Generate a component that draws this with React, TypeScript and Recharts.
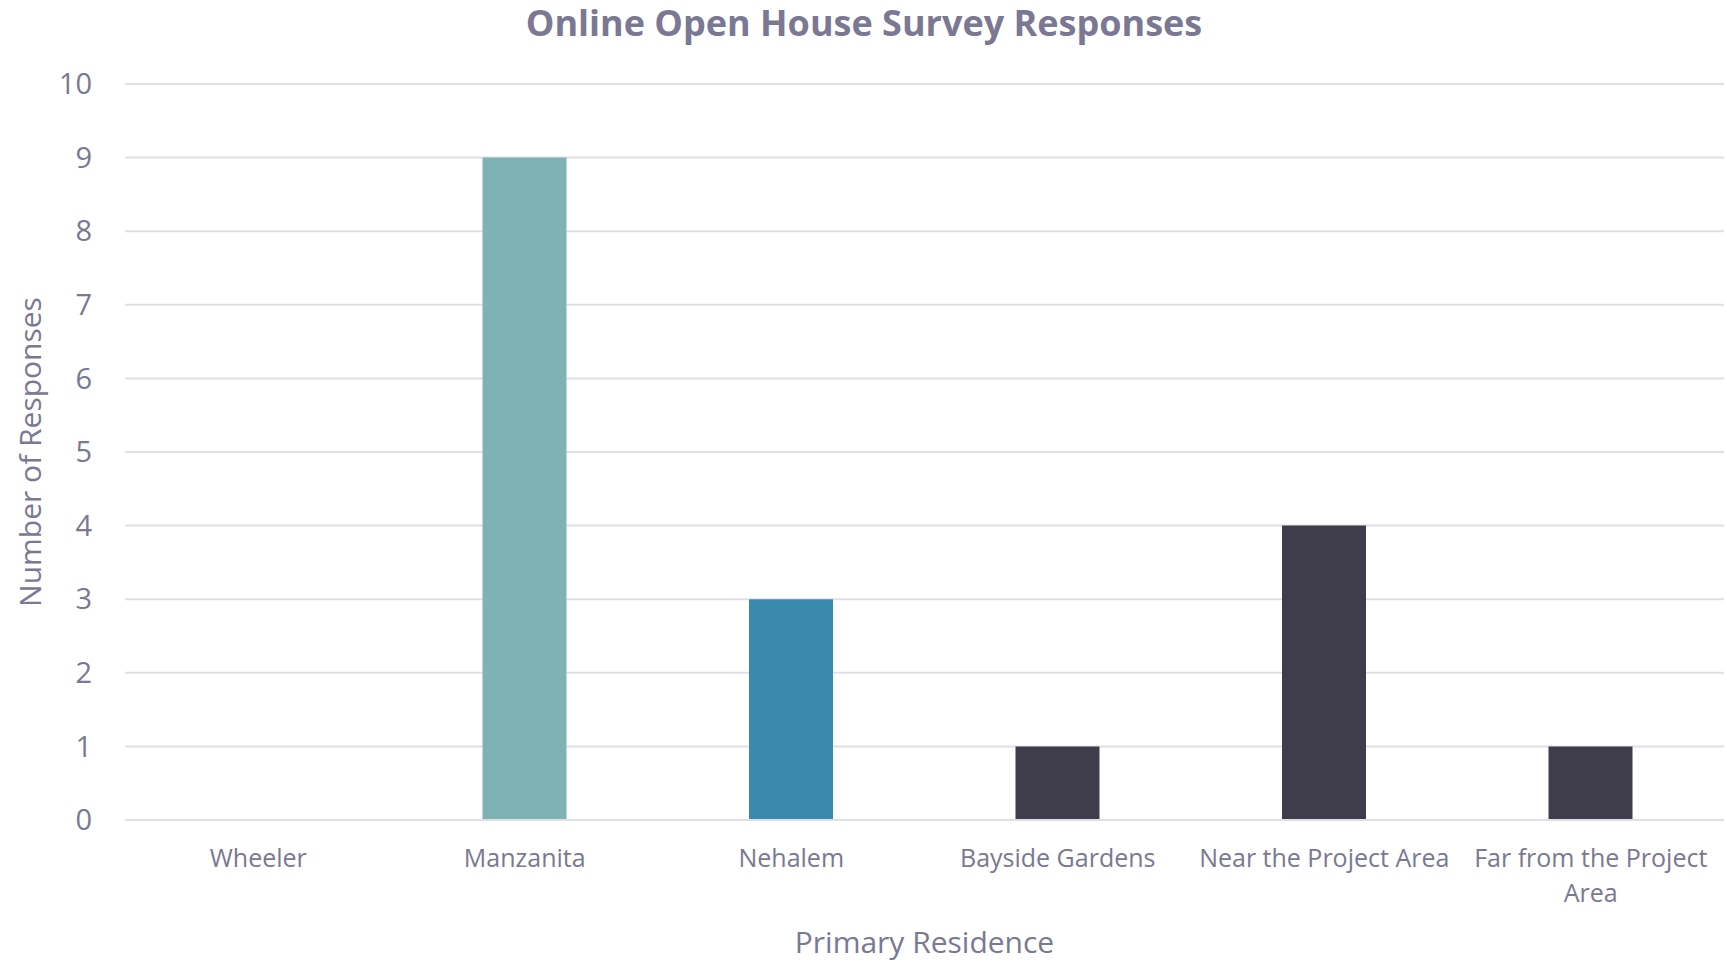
import React from "react";
import { BarChart, Bar, XAxis, YAxis, CartesianGrid, Cell, Label } from "recharts";

const categories = ["Wheeler", "Manzanita", "Nehalem", "Bayside Gardens", "Near the Project Area", "Far from the Project Area"];
const categoryLines = [["Wheeler"], ["Manzanita"], ["Nehalem"], ["Bayside Gardens"], ["Near the Project Area"], ["Far from the Project", "Area"]];
const responses = [0, 9, 3, 1, 4, 1];
const barColors = ["#7fb3b3", "#7fb3b3", "#3a8aad", "#3f3d4b", "#3f3d4b", "#3f3d4b"];
const yTicks = [0, 1, 2, 3, 4, 5, 6, 7, 8, 9, 10];

const data = categories.map((c, i) => ({ name: c, value: responses[i] }));

const FONT = "'Open Sans', 'Noto Sans', sans-serif";
const TEXT = "#7a7892";

const XTick = (props: any) => {
  const { x, y, payload } = props;
  const idx = categories.indexOf(payload.value);
  const lines = idx >= 0 ? categoryLines[idx] : [String(payload.value)];
  return (
    <text x={x} y={y} textAnchor="middle" fontFamily={FONT} fontSize={25} fill={TEXT}>
      {lines.map((l, i) => (
        <tspan key={i} x={x} dy={i === 0 ? "0.71em" : 35}>
          {l}
        </tspan>
      ))}
    </text>
  );
};

export default function App() {
  return (
    <div style={{ position: "absolute", left: 0, top: 0, width: 1727, height: 962, background: "#fff" }}>
      <div
        style={{
          position: "absolute",
          left: 0,
          width: 1728,
          top: 1,
          textAlign: "center",
          fontFamily: FONT,
          fontWeight: 700,
          fontSize: 36,
          color: "#7b7894",
          lineHeight: "44px",
        }}
      >
        Online Open House Survey Responses
      </div>
      <BarChart
        width={1727}
        height={962}
        data={data}
        margin={{ top: 84, right: 3, left: 0, bottom: 0 }}
        barSize={84}
      >
        <CartesianGrid vertical={false} stroke="#e0dfe6" strokeWidth={2} />
        <XAxis
          dataKey="name"
          axisLine={{ stroke: "#e0dfe6", strokeWidth: 2 }}
          tickLine={false}
          tickSize={0}
          tickMargin={29}
          height={142}
          tick={<XTick />}
          interval={0}
        >
          <Label
            value="Primary Residence"
            position="insideBottom"
            offset={9}
            style={{ fontFamily: FONT, fontSize: 30, fill: TEXT }}
          />
        </XAxis>
        <YAxis
          width={125}
          domain={[0, 10]}
          ticks={yTicks}
          interval={0}
          axisLine={false}
          tickLine={false}
          tickSize={0}
          tickMargin={33}
          tick={{ fontFamily: FONT, fontSize: 29, fill: TEXT }}
        >
          <Label
            value="Number of Responses"
            angle={-90}
            position="insideLeft"
            offset={30}
            style={{ fontFamily: FONT, fontSize: 30, fill: TEXT, textAnchor: "middle" }}
          />
        </YAxis>
        <Bar dataKey="value" isAnimationActive={false}>
          {data.map((d, i) => (
            <Cell key={d.name} fill={barColors[i]} />
          ))}
        </Bar>
      </BarChart>
    </div>
  );
}
